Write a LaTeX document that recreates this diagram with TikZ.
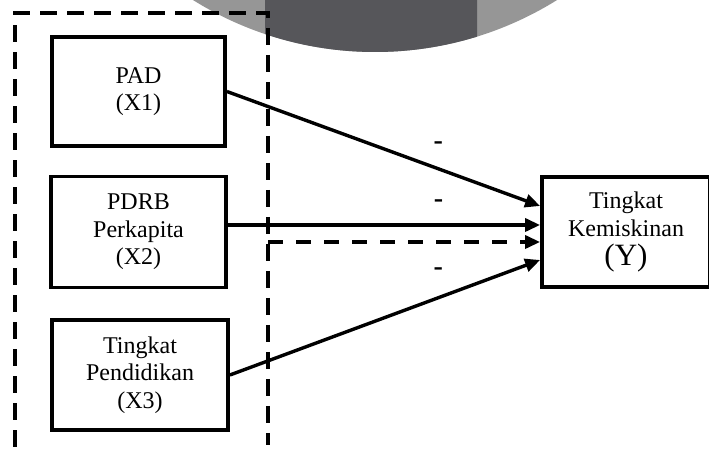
\documentclass[tikz,border=0pt]{standalone}
\usepackage{fontspec}
\setmainfont{Liberation Serif}
\usetikzlibrary{arrows.meta}
\definecolor{logolight}{HTML}{969696}
\definecolor{logodark}{HTML}{56565A}

\begin{document}
\begin{tikzpicture}[x=1pt, y=1pt,
  var/.style={draw, line width=3.8pt, align=center, inner sep=0pt,
    font=\fontsize{24}{27.5}\selectfont},
  link/.style={line width=3.4pt, -{Triangle[length=15pt,width=13pt]}},
  frame/.style={line width=3.8pt, dash pattern=on 17pt off 10pt},
  sign/.style={inner sep=0pt, font=\fontsize{28}{30}\selectfont\bfseries}]
 \useasboundingbox (0,0) rectangle (709,449);
 % logo in the background
 \begin{scope}
  \clip (0,0) rectangle (709,449);
  \fill[logolight] (375,741.5) circle (344.5);
  \clip (265,0) rectangle (477,449);
  \fill[logodark] (375,741.5) circle (344.5);
 \end{scope}
 \draw[frame] (15,2) -- (15,436) -- (268,436) -- (268,4);
 \node[var, minimum width=173, minimum height=109] (pad) at (138.5,357.5) {PAD\\(X1)};
 \node[var, minimum width=175, minimum height=111] (pdrb) at (138.5,217) {PDRB\\Perkapita\\(X2)};
 \node[var, minimum width=176, minimum height=110] (didik) at (140,74) {Tingkat\\Pendidikan\\(X3)};
 \node[var, minimum width=168, minimum height=110] (miskin) at (626,217)
  {Tingkat\\Kemiskinan\\[2pt]{\fontsize{31}{34}\selectfont(Y)}};
 \coordinate (cabang) at (268,207);
 \draw[link] (pad.east) -- node[sign, pos=.675, above=18pt] {-} ([yshift=26pt]miskin.west);
 \draw[link] ([yshift=7pt]pdrb.east) -- node[sign, pos=.675, above=15.5pt] {-} ([yshift=7pt]miskin.west);
 \draw[link, dash pattern=on 15pt off 13pt] (cabang) -- ([yshift=-10pt]miskin.west);
 \draw[link] (didik.east) -- node[sign, pos=.672, above=20.5pt] {-} ([yshift=-28pt]miskin.west);
\end{tikzpicture}
\end{document}
